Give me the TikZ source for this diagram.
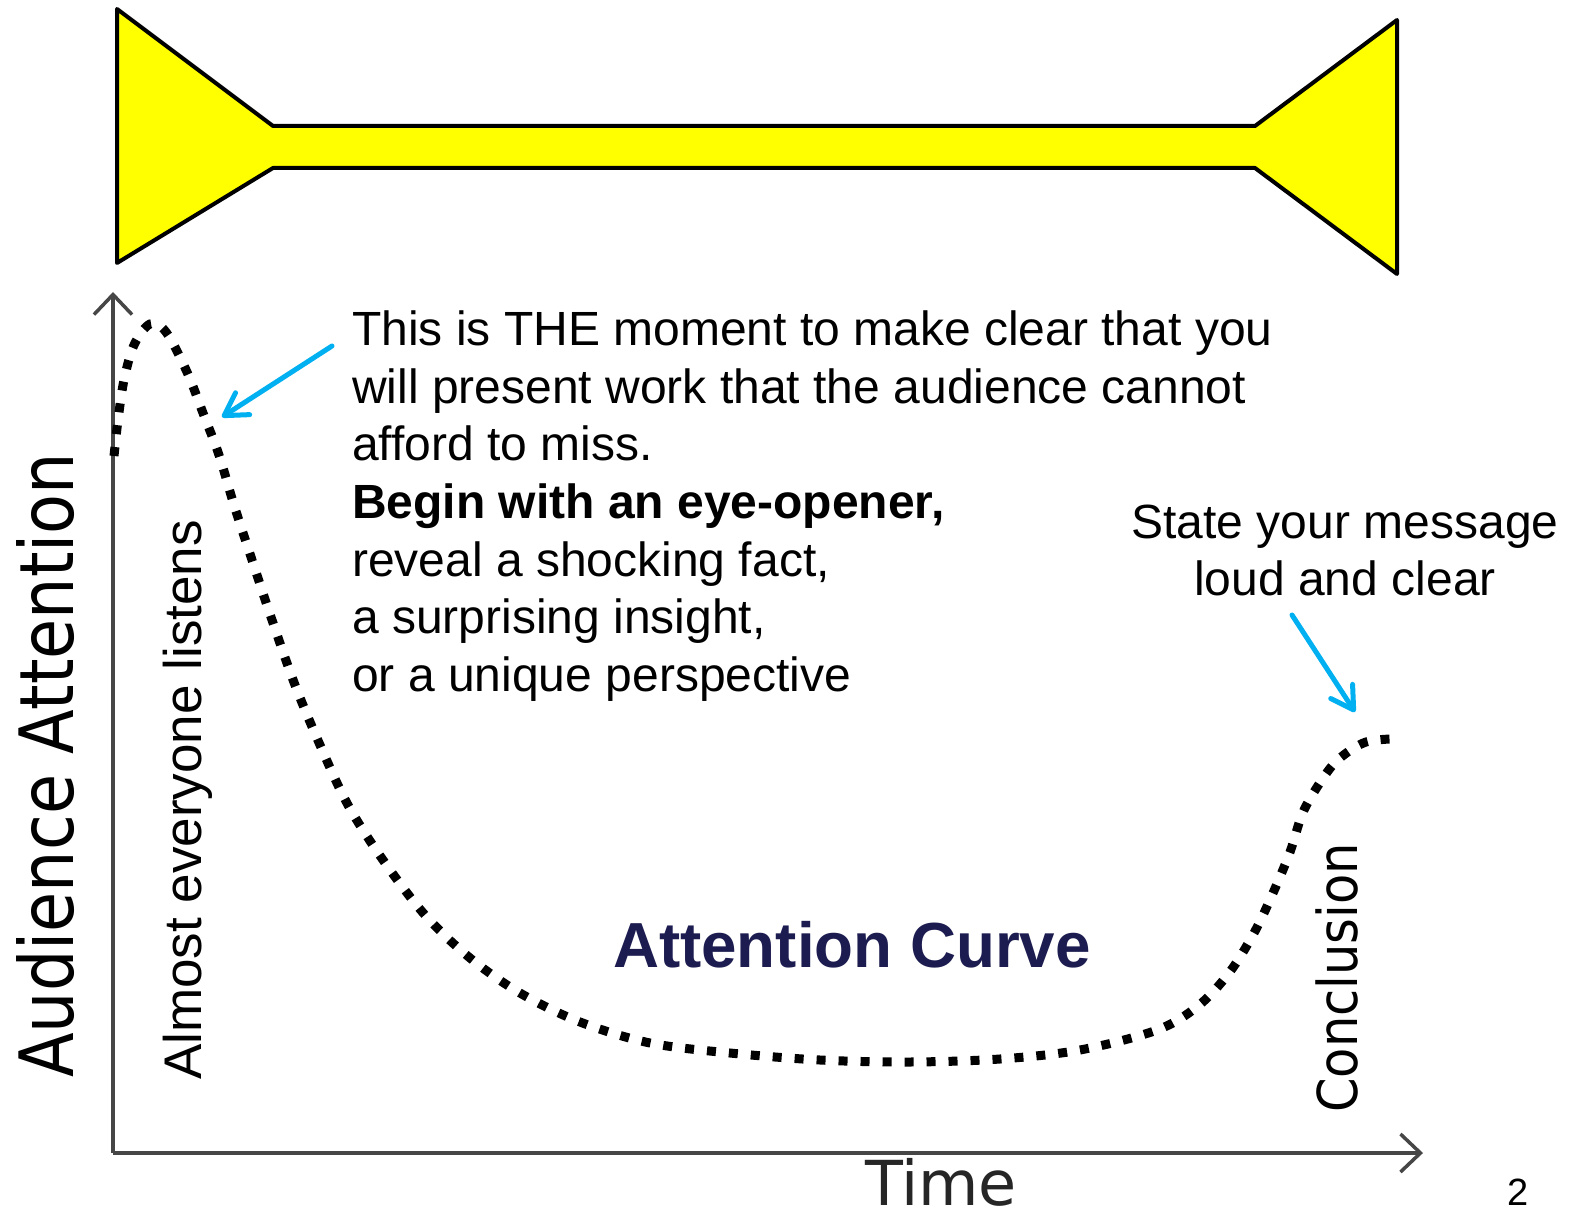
\documentclass[tikz,border=0pt]{standalone}
\usepackage{fontspec}
\setmainfont{Liberation Sans}
\newfontfamily\dvs{DejaVu Sans}
\usetikzlibrary{arrows.meta}
\definecolor{ybox}{RGB}{255,255,0}
\definecolor{navy}{RGB}{28,28,80}
\definecolor{cyanarrow}{RGB}{0,176,240}
\definecolor{axisgray}{RGB}{70,70,70}
\begin{document}
\begin{tikzpicture}[x=1pt,y=-1pt,
  axis/.style={draw=axisgray, line width=3.5pt, -{Straight Barb[length=20pt,width=38pt,line width=3.5pt]}},
  callout/.style={draw=cyanarrow, line width=5pt, line cap=round, -{Straight Barb[length=22pt,width=26pt,line cap=round,line join=round]}},
  body/.style={font=\fontsize{48}{57.7}\selectfont, inner sep=0pt, anchor=base west},
  bodyc/.style={font=\fontsize{48}{57.7}\selectfont, inner sep=0pt, anchor=base},
  dotcurve/.style={draw=black, line width=9pt, dash pattern=on 9pt off 13pt},
]
\fill[white] (0,0) rectangle (1579,1222);
\useasboundingbox (0,0) rectangle (1579,1222);

% yellow bar
\draw[fill=ybox, line width=4pt, line join=round]
  (117,9) -- (273,126) -- (1255,126) -- (1397,20) -- (1397,274)
  -- (1255,168) -- (273,168) -- (117,263) -- cycle;

% axes
\coordinate (O) at (113,1153);
\coordinate (ytip) at (113,292);
\coordinate (xtip) at (1423,1153);
\draw[axis] (O) -- (ytip);
\draw[axis] (O) -- (xtip);

% attention curve
\draw[dotcurve] plot[smooth, tension=0.55] coordinates {
  (114,456) (118,420) (124,380) (134,345) (150,324) (166,332)
  (187,372) (203,413) (219,455) (234,505) (252,560) (272,620)
  (295,685) (320,745) (348,805) (383,860) (425,915) (470,958)
  (520,993) (580,1022) (650,1043) (730,1053) (820,1060) (910,1062)
  (1000,1059) (1080,1050) (1157,1030) (1198,1006) (1229,973)
  (1254,933) (1273,893) (1290,852) (1304,810) (1328,771) (1345,754)
  (1366,742) (1390,739)};

% callout arrows
\coordinate (a1s) at (332,346);
\coordinate (a1e) at (222,417);
\coordinate (a2s) at (1292,615);
\coordinate (a2e) at (1355,712);
\draw[callout] (a1s) -- (a1e);
\draw[callout] (a2s) -- (a2e);

% main text
\node[body] (l1) at (352,345) {This is THE moment to make clear that you};
\node[body] (l2) at (352,403) {will present work that the audience cannot};
\node[body] (l3) at (352,460) {afford to miss.};
\node[body] (l4) at (352,518) {\bfseries Begin with an eye-opener,};
\node[body] (l5) at (352,576) {reveal a shocking fact,};
\node[body] (l6) at (352,633) {a surprising insight,};
\node[body] (l7) at (352,691) {or a unique perspective};

\node[bodyc] (s1) at (1345,538) {State your message};
\node[bodyc] (s2) at (1345,595) {loud and clear};

\node[inner sep=0pt, anchor=base, font=\fontsize{63.7}{64}\selectfont\bfseries, text=navy] (title) at (852,967) {Attention Curve};

\node[inner sep=0pt, anchor=base west, rotate=90, font=\fontsize{53}{53}\selectfont] (almost) at (201,1080) {Almost everyone listens};

\node[inner sep=0pt, anchor=base west, rotate=90] (yl) at (73,1078) {\scalebox{0.87}[1]{\dvs\fontsize{75}{75}\selectfont Audience Attention}};
\node[inner sep=0pt, anchor=base west, rotate=90] (concl) at (1357,1113) {\scalebox{0.9}[1]{\dvs\fontsize{55}{55}\selectfont Conclusion}};
\node[inner sep=0pt, anchor=base west, font=\dvs\fontsize{62}{62}\selectfont, text=black!85] (time) at (865,1205) {Time};
\node[inner sep=0pt, anchor=base, font=\fontsize{38}{38}\selectfont] (pg) at (1518,1205) {2};
\end{tikzpicture}
\end{document}
